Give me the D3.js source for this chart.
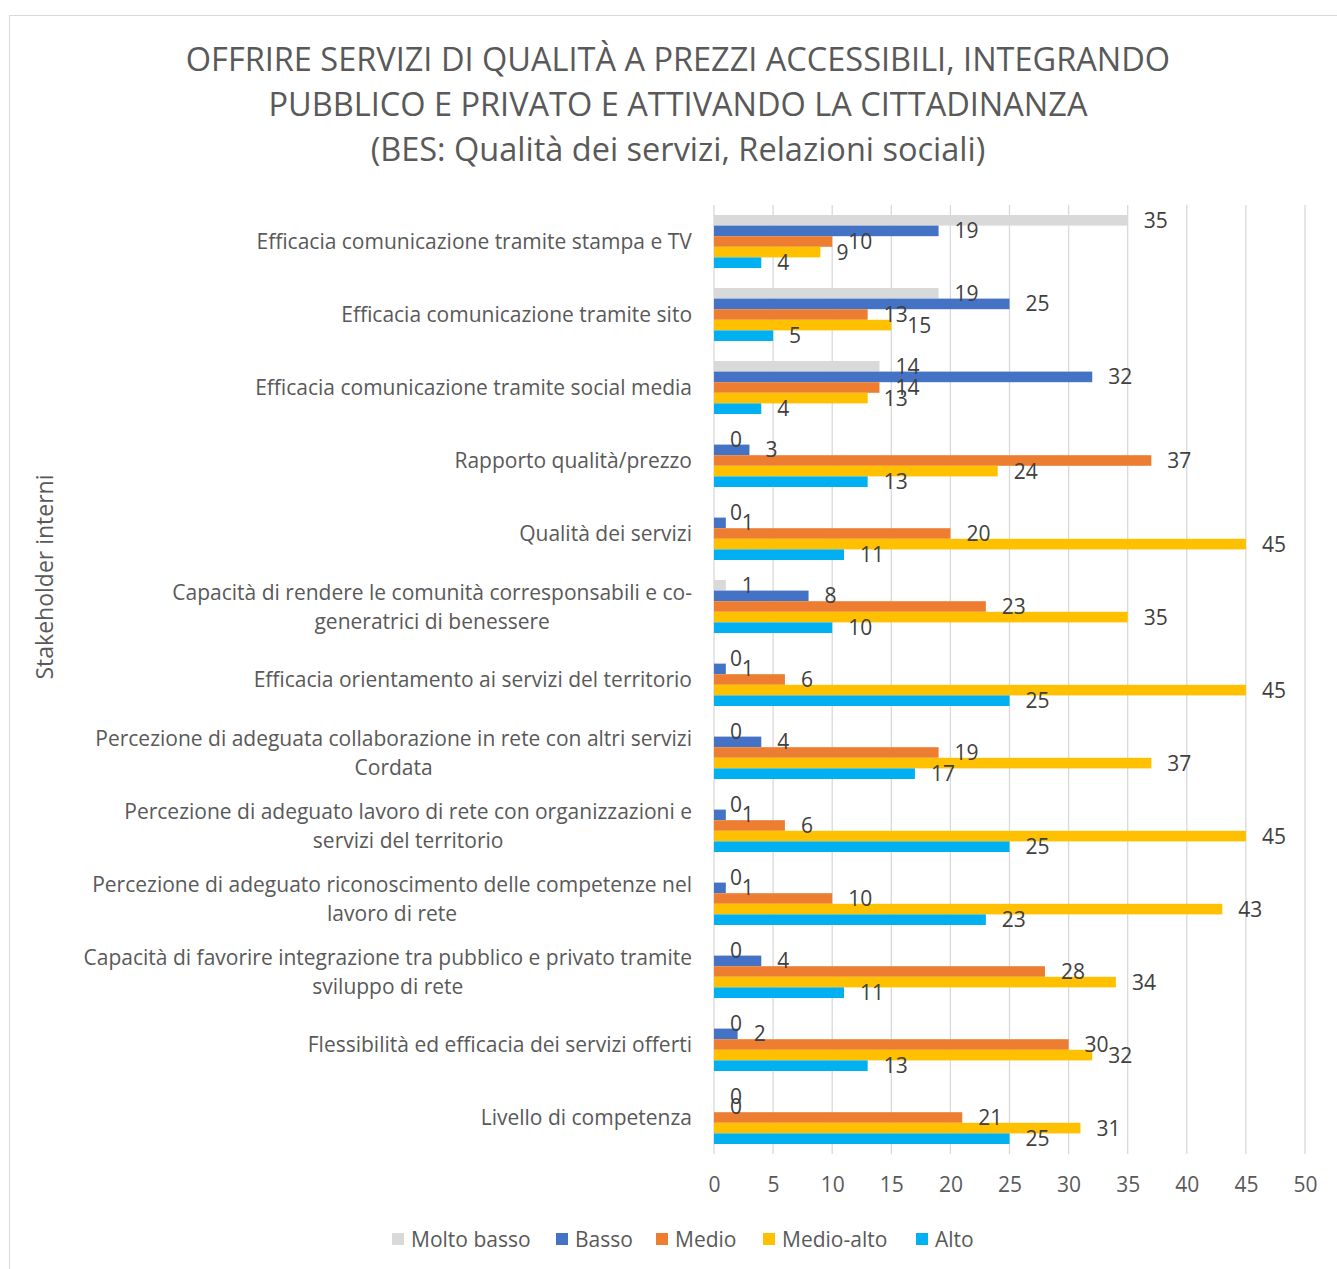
<!DOCTYPE html>
<html>
<head>
<meta charset="utf-8">
<script src="https://cdn.jsdelivr.net/npm/d3@7"></script>
<style>
  html, body { margin: 0; padding: 0; background: #fff; }
  svg { display: block; font-family: "Open Sans", "Noto Sans", sans-serif; }
</style>
</head>
<body>
<svg id="chart" width="1337" height="1269"></svg>
<script>
// Survey items (top to bottom), each wrapped onto display lines
const categories = [
  ["Efficacia comunicazione tramite stampa e TV"],
  ["Efficacia comunicazione tramite sito"],
  ["Efficacia comunicazione tramite social media"],
  ["Rapporto qualità/prezzo"],
  ["Qualità dei servizi"],
  ["Capacità di rendere le comunità corresponsabili e co-", "generatrici di benessere"],
  ["Efficacia orientamento ai servizi del territorio"],
  ["Percezione di adeguata collaborazione in rete con altri servizi", "Cordata"],
  ["Percezione di adeguato lavoro di rete con organizzazioni e", "servizi del territorio"],
  ["Percezione di adeguato riconoscimento delle competenze nel", "lavoro di rete"],
  ["Capacità di favorire integrazione tra pubblico e privato tramite", "sviluppo di rete"],
  ["Flessibilità ed efficacia dei servizi offerti"],
  ["Livello di competenza"]
];

const seriesNames = ["Molto basso", "Basso", "Medio", "Medio-alto", "Alto"];
const seriesColors = ["#d9d9d9", "#4472c4", "#ed7d31", "#ffc000", "#00b0f0"];

const moltoBasso = [35, 19, 14, 0, 0, 1, 0, 0, 0, 0, 0, 0, 0];
const basso      = [19, 25, 32, 3, 1, 8, 1, 4, 1, 1, 4, 2, 0];
const medio      = [10, 13, 14, 37, 20, 23, 6, 19, 6, 10, 28, 30, 21];
const medioAlto  = [9, 15, 13, 24, 45, 35, 45, 37, 45, 43, 34, 32, 31];
const alto       = [4, 5, 4, 13, 11, 10, 25, 17, 25, 23, 11, 13, 25];
const seriesValues = [moltoBasso, basso, medio, medioAlto, alto];

const xTicks = [0, 5, 10, 15, 20, 25, 30, 35, 40, 45, 50];

const titleLines = [
  "OFFRIRE SERVIZI DI QUALITÀ A PREZZI ACCESSIBILI, INTEGRANDO",
  "PUBBLICO E PRIVATO E ATTIVANDO LA CITTADINANZA",
  "(BES: Qualità dei servizi, Relazioni sociali)"
];
const yAxisTitle = "Stakeholder interni";

const svg = d3.select("#chart");
const textColor = "#595959";

// outer chart frame
svg.append("rect")
  .attr("x", 9.5).attr("y", 15.5)
  .attr("width", 1340).attr("height", 1270)
  .attr("fill", "none").attr("stroke", "#d9d9d9").attr("stroke-width", 1);

// title
svg.append("g").selectAll("text")
  .data(titleLines)
  .join("text")
  .attr("x", 678)
  .attr("y", (d, i) => 71 + i * 45)
  .attr("text-anchor", "middle")
  .attr("font-size", 32.5)
  .attr("fill", textColor)
  .text(d => d);

const plot = { left: 714, right: 1305, top: 205, bottom: 1154 };

const x = d3.scaleLinear().domain([0, 50]).range([plot.left, plot.right]);
const y = d3.scaleBand()
  .domain(d3.range(categories.length))
  .range([plot.top, plot.bottom])
  .paddingInner(0.274)
  .paddingOuter(0.137);
const ySub = d3.scaleBand()
  .domain(d3.range(seriesNames.length))
  .range([0, y.bandwidth()]);

// vertical gridlines
svg.append("g")
  .selectAll("line")
  .data(xTicks)
  .join("line")
  .attr("x1", d => x(d)).attr("x2", d => x(d))
  .attr("y1", plot.top).attr("y2", plot.bottom)
  .attr("stroke", "#d9d9d9").attr("stroke-width", 1.3);

// x axis tick labels
const xAxis = d3.axisBottom(x).tickValues(xTicks).tickSize(0).tickPadding(0);
const xg = svg.append("g")
  .attr("transform", `translate(0,${plot.bottom + 23})`)
  .call(xAxis);
xg.select(".domain").remove();
xg.selectAll("text")
  .attr("font-size", 21)
  .attr("font-family", "\"Open Sans\", sans-serif")
  .attr("fill", textColor);

// bars
const groups = svg.append("g").selectAll("g")
  .data(categories.map((c, i) => i))
  .join("g")
  .attr("transform", i => `translate(0,${y(i)})`);

groups.selectAll("rect")
  .data(i => seriesValues.map((vals, s) => ({ s, v: vals[i] })))
  .join("rect")
  .attr("x", x(0))
  .attr("y", d => ySub(d.s))
  .attr("width", d => x(d.v) - x(0))
  .attr("height", ySub.bandwidth())
  .attr("fill", d => seriesColors[d.s]);

// value labels
groups.selectAll("text")
  .data(i => seriesValues.map((vals, s) => ({ s, v: vals[i] })))
  .join("text")
  .attr("x", d => x(d.v) + 16)
  .attr("y", d => ySub(d.s) + ySub.bandwidth() / 2)
  .attr("dy", "0.36em")
  .attr("font-size", 21)
  .attr("fill", "#404040")
  .text(d => d.v);

// category labels
const catG = svg.append("g").selectAll("g")
  .data(categories)
  .join("g")
  .attr("transform", (d, i) => `translate(0,${y(i) + y.bandwidth() / 2})`);

catG.each(function (lines) {
  const g = d3.select(this);
  const lh = 29;
  const t = g.append("text")
    .attr("font-size", 21)
    .attr("fill", textColor)
    .attr("text-anchor", "middle");
  lines.forEach((ln, k) => {
    t.append("tspan")
      .attr("x", 0)
      .attr("y", (k - (lines.length - 1) / 2) * lh)
      .attr("dy", "0.36em")
      .text(ln);
  });
  // right-align the centred block against the axis
  const w = t.node().getBBox().width;
  t.attr("transform", `translate(${692 - w / 2},0)`);
});

// y axis title
svg.append("text")
  .attr("transform", `translate(53,577) rotate(-90)`)
  .attr("text-anchor", "middle")
  .attr("font-size", 23)
  .attr("fill", textColor)
  .text(yAxisTitle);

// legend
const legendX = [392, 556, 656, 763, 916];
const lg = svg.append("g").selectAll("g")
  .data(seriesNames)
  .join("g")
  .attr("transform", (d, i) => `translate(${legendX[i]},1239)`);
lg.append("rect")
  .attr("x", 0).attr("y", -6)
  .attr("width", 12).attr("height", 12)
  .attr("fill", (d, i) => seriesColors[i]);
lg.append("text")
  .attr("x", 19).attr("y", 0).attr("dy", "0.36em")
  .attr("font-size", 21)
  .attr("fill", textColor)
  .text(d => d);
</script>
</body>
</html>
